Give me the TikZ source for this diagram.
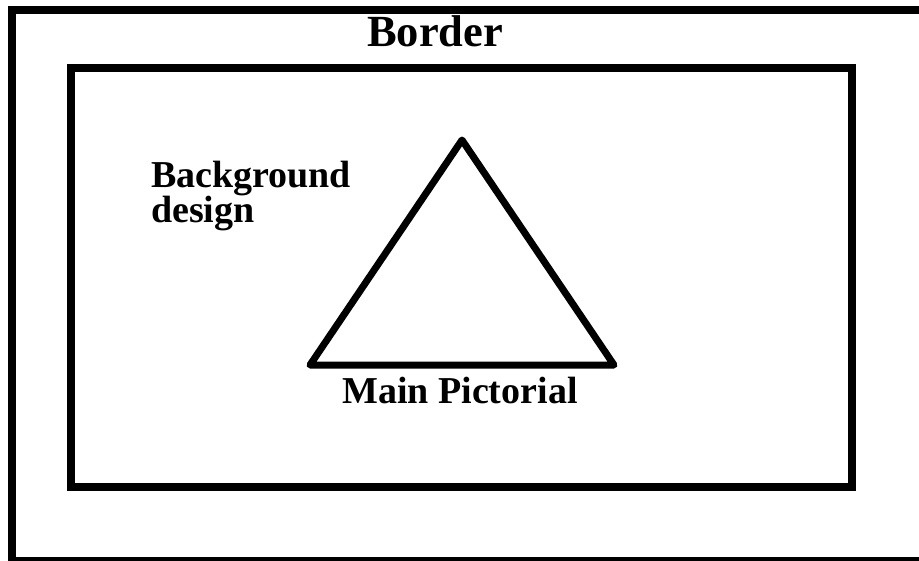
\documentclass[tikz,border=0pt]{standalone}
\usepackage{fontspec}
\setmainfont{Liberation Serif}
\begin{document}
\begin{tikzpicture}[x=1pt,y=-1pt,
  frame/.style={draw=black,line width=8pt},
  shapeline/.style={draw=black,line width=7pt,line join=round,line cap=round},
  lbl/.style={font=\bfseries\fontsize{38}{35}\selectfont,inner sep=0pt,anchor=base west,align=left},
  biglbl/.style={font=\bfseries\fontsize{44.5}{46}\selectfont,inner sep=0pt,anchor=base west}]
  \useasboundingbox (0,0) rectangle (919,560);
  \begin{scope}
    \clip (0,0) rectangle (919,560);
    % outer border frame
    \draw[frame] (12,10) rectangle (930,561);
  \end{scope}
  % inner background panel
  \draw[frame] (71,67.5) rectangle (851.5,486.5);
  % main pictorial triangle
  \coordinate (apex) at (462,140);
  \coordinate (bl) at (310,365);
  \coordinate (br) at (614,365);
  \draw[shapeline] (apex) -- (bl) -- (br) -- cycle;
  % labels
  \node[biglbl] (border) at (367,46) {Border};
  \node[lbl] (bg) at (151,222) {Background\\design};
  \node[lbl] (main) at (342,403) {Main Pictorial};
\end{tikzpicture}
\end{document}
